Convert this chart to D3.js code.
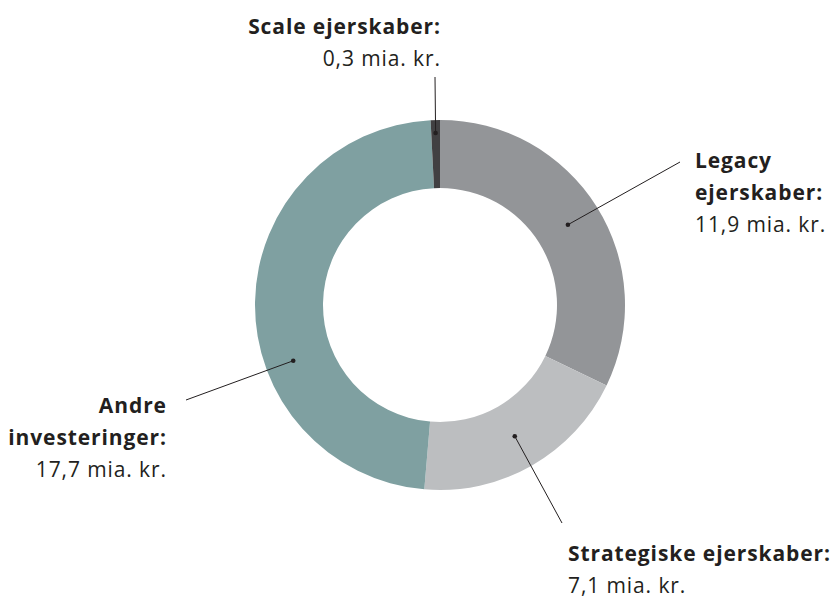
<!DOCTYPE html>
<html>
<head>
<meta charset="utf-8">
<script src="https://cdn.jsdelivr.net/npm/d3@7"></script>
<style>
  body { margin: 0; background: #fff; }
  text { font-family: "Open Sans", Lato, sans-serif; fill: #231f20; }
</style>
</head>
<body>
<div id="chart"></div>
<script>
const width = 834,
      height = 598,
      cx = 440,
      cy = 305,
      outerR = 185,
      innerR = 117;

// data, in drawing order clockwise from 12 o'clock
const categories = ["Legacy ejerskaber", "Strategiske ejerskaber", "Andre investeringer", "Scale ejerskaber"];
const values = [11.9, 7.1, 17.7, 0.3];
const colors = ["#939598", "#bcbec0", "#7fa0a1", "#414042"];
const titleLines = [["Legacy", "ejerskaber:"], ["Strategiske ejerskaber:"], ["Andre", "investeringer:"], ["Scale ejerskaber:"]];
const valueLabels = ["11,9 mia. kr.", "7,1 mia. kr.", "17,7 mia. kr.", "0,3 mia. kr."];

// label placement (annotation layout)
const labelPos = [
    { x: 695, y: 168, anchor: "start", dotAngle: 0.0, dotR: 151, lx: 680, ly: 162 },
    { x: 568, y: 561, anchor: "start", dotAngle: 0.0, dotR: 151, lx: 562, ly: 523 },
    { x: 166, y: 413, anchor: "end", dotAngle: -0.38, dotR: 157, lx: 186, ly: 400 },
    { x: 440, y: 34, anchor: "end", dotAngle: 0.0, dotR: 172, lx: 435, ly: 77 }
];

const data = categories.map(function(c, i) {
    return { key: c, value: values[i], color: colors[i], title: titleLines[i], label: valueLabels[i], pos: labelPos[i] };
});

const svg = d3.select("#chart").append("svg")
      .attr("width", width)
      .attr("height", height);

const pie = d3.pie()
      .sort(null)
      .value(function(d) { return d.value; });

const arc = d3.arc()
      .innerRadius(innerR)
      .outerRadius(outerR);

const arcs = pie(data);

const g = svg.append("g")
      .attr("transform", `translate(${cx},${cy})`);

g.selectAll("path")
    .data(arcs)
    .join("path")
    .attr("d", arc)
    .attr("fill", function(d) { return d.data.color; });

// leader lines and dots
arcs.forEach(function(d) {
    const p = d.data.pos;
    const a = (d.startAngle + d.endAngle) / 2 + p.dotAngle;
    const dx = Math.sin(a) * p.dotR,
          dy = -Math.cos(a) * p.dotR;
    g.append("line")
        .attr("x1", dx).attr("y1", dy)
        .attr("x2", p.lx - cx).attr("y2", p.ly - cy)
        .attr("stroke", "#231f20")
        .attr("stroke-width", 1);
    g.append("circle")
        .attr("cx", dx).attr("cy", dy)
        .attr("r", 2.3)
        .attr("fill", "#231f20");
});

// labels
const lineH = 32;
const labels = svg.append("g")
      .selectAll("text")
      .data(data)
      .join("text")
      .attr("text-anchor", function(d) { return d.pos.anchor; })
      .attr("font-size", 21)
      .attr("letter-spacing", "0.9px");

labels.each(function(d) {
    const t = d3.select(this);
    const shift = d.pos.anchor === "end" ? 0.9 : 0;
    d.title.forEach(function(line, i) {
        t.append("tspan")
            .attr("x", d.pos.x + shift)
            .attr("y", d.pos.y + i * lineH)
            .attr("font-weight", 700)
            .text(line);
    });
    t.append("tspan")
        .attr("x", d.pos.x + shift)
        .attr("y", d.pos.y + d.title.length * lineH)
        .attr("font-weight", 400)
        .text(d.label);
});
</script>
</body>
</html>
